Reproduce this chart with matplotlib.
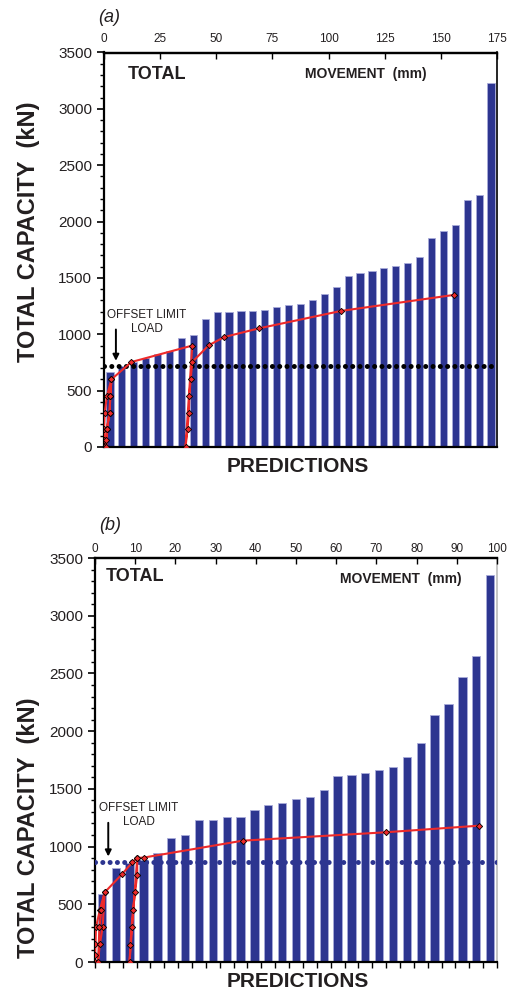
import numpy as np
import matplotlib.pyplot as plt

plt.rcParams['font.family'] = ['Liberation Sans', 'DejaVu Sans']

# panel (a) - capacity predictions (kN), sorted
pred_a = [663, 721, 750, 787, 828, 855, 967, 994, 1133, 1198, 1198, 1210, 1210,
          1216, 1245, 1260, 1266, 1304, 1355, 1420, 1520, 1541, 1565, 1585, 1609,
          1630, 1686, 1852, 1914, 1970, 2192, 2236, 3232]
# load-movement curve (mm, kN)
mov_a = [0, 0, 0, 0.3, 1.3, 3.3, 2.8, 2.5, 1.3, 1.0, 1.0, 1.3, 2.5, 2.8, 3.3,
         12.2, 39.3, 36.3, 37.2, 37.8, 38.0, 38.6, 39.3, 46.6, 53.6, 69.1, 105.5, 155.7]
load_a = [0, 62, 162, 304, 452, 600, 452, 304, 162, 62, 0, 162, 304, 452, 600,
          754, 900, 0, 160, 304, 455, 600, 754, 902, 976, 1053, 1207, 1349]
offset_a = 720

# panel (b)
pred_b = [586, 811, 860, 880, 941, 1071, 1100, 1230, 1230, 1259, 1259, 1317, 1356,
          1375, 1412, 1427, 1493, 1611, 1623, 1637, 1660, 1686, 1778, 1897, 2140,
          2238, 2469, 2653, 3355]
mov_b = [0, 0, 0.1, 0.25, 1.2, 2.4, 1.9, 1.2, 0.75, 1.1, 1.6, 2.4, 6.7, 9.3, 10.5,
         8.6, 8.8, 9.1, 9.45, 9.95, 10.5, 10.5, 12.2, 36.7, 72.4, 95.5]
load_b = [0, 61, 153, 300, 450, 603, 300, 153, 0, 300, 450, 603, 760, 864, 901,
          0, 147, 300, 450, 603, 754, 901, 905, 1051, 1124, 1181]
offset_b = 870

W, H = 516, 994
fig = plt.figure(figsize=(W / 100, H / 100), dpi=100)

navy = '#2d3590'
red = '#ee2a2a'


def rect(l, t, r, b):
    return [l / W, 1 - b / H, (r - l) / W, (b - t) / H]


def panel(box, preds, mov, load, offset, dot_color, mm_max, mm_step, top_pad,
          bottom_ticks, note_xy, arrow_x, arrow_top, right_col):
    ax = fig.add_axes(box)
    n = len(preds)
    x = np.arange(n)
    ax.bar(x, preds, width=0.6, color=navy, edgecolor='#a9acd9', linewidth=0.6, zorder=2)
    ax.axhline(offset, color=dot_color, lw=3.6, ls=(0, (0.01, 1.45)),
               dash_capstyle='round', zorder=3)
    ax.set_xlim(-0.5, n - 0.5)
    ax.set_ylim(0, 3500)
    ax.set_yticks(np.arange(0, 3501, 500))
    ax.set_yticks(np.arange(0, 3501, 100), minor=True)
    ax.tick_params(axis='y', which='major', direction='out', length=5, width=1.2,
                   labelsize=11, labelcolor='#231f20')
    ax.tick_params(axis='y', which='minor', direction='out', length=3, width=1.0)
    if bottom_ticks:
        ax.set_xticks(np.arange(-0.5, n, 1))
        ax.set_xticklabels([])
        ax.tick_params(axis='x', direction='out', length=4, width=1.0)
    else:
        ax.set_xticks([])
    for s in ['left', 'bottom', 'top']:
        ax.spines[s].set_linewidth(1.6)
    ax.spines['right'].set_linewidth(1.2)
    ax.spines['right'].set_color(right_col)

    ax2 = ax.twiny()
    ax2.set_xlim(0, mm_max)
    ax2.set_xticks(np.arange(0, mm_max + 1, mm_step))
    ax2.tick_params(axis='x', direction='in', length=4, width=1.0, labelsize=8.5,
                    pad=top_pad, labelcolor='#231f20')
    for s in ['left', 'bottom', 'right']:
        ax2.spines[s].set_visible(False)
    ax2.spines['top'].set_linewidth(1.6)
    ax2.plot(mov, load, color=red, lw=1.5, marker='D', ms=3.2, mfc=red,
             mec='black', mew=0.6, zorder=5)
    ax2.text(note_xy[0], note_xy[1], 'OFFSET LIMIT\nLOAD', ha='center', va='center',
             fontsize=8.5, color='#231f20', linespacing=1.25)
    ax2.annotate('', xy=(arrow_x, offset + 20), xytext=(arrow_x, arrow_top),
                 arrowprops=dict(arrowstyle='-|>', color='black', lw=1.4,
                                 mutation_scale=9))
    return ax


ax_a = panel(rect(104, 52.5, 497, 447), pred_a, mov_a, load_a, offset_a, 'black',
             175, 25, 5.5, False, (19.1, 1109), 5.3, 1067, 'black')
ax_a.text(0.061, 0.945, 'TOTAL', transform=ax_a.transAxes, fontsize=13,
          fontweight='bold', va='center', ha='left', color='#231f20')
ax_a.text(0.666, 0.945, 'MOVEMENT  (mm)', transform=ax_a.transAxes, fontsize=10,
          fontweight='bold', va='center', ha='center', color='#231f20')

ax_b = panel(rect(95, 558, 497, 962), pred_b, mov_b, load_b, offset_b, navy,
             100, 10, 2, True, (10.9, 1276), 3.3, 1230, '#bbbbbb')
ax_b.text(0.027, 0.954, 'TOTAL', transform=ax_b.transAxes, fontsize=13,
          fontweight='bold', va='center', ha='left', color='#231f20')
ax_b.text(0.761, 0.948, 'MOVEMENT  (mm)', transform=ax_b.transAxes, fontsize=10,
          fontweight='bold', va='center', ha='center', color='#231f20')

# figure level labels
fig.text(98 / W, 1 - 17 / H, '(a)', fontsize=13, style='italic', va='center',
         ha='left', color='#231f20')
fig.text(99 / W, 1 - 525 / H, '(b)', fontsize=13, style='italic', va='center',
         ha='left', color='#231f20')
for y in [466.7, 981.7]:
    fig.text(298 / W, 1 - y / H, 'PREDICTIONS', fontsize=15, fontweight='bold',
             ha='center', va='center', color='#231f20')
for y in [232, 828]:
    fig.text(29 / W, 1 - y / H, 'TOTAL CAPACITY  (kN)', fontsize=17,
             fontweight='bold', rotation=90, ha='center', va='center',
             color='#231f20')

fig.savefig('out.png', dpi=100)
